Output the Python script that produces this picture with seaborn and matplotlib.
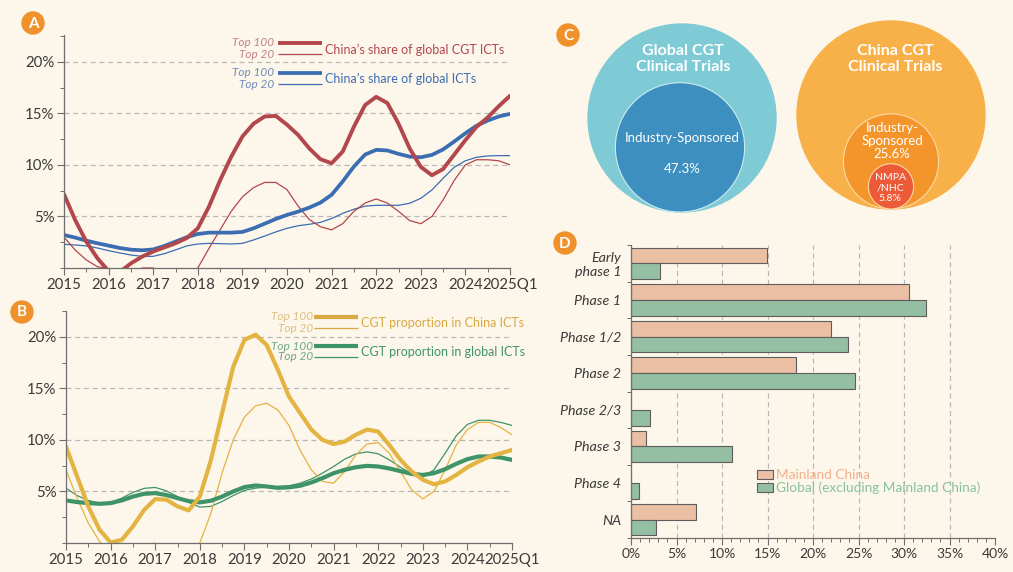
import numpy as np
import pandas as pd
import matplotlib
matplotlib.use('Agg')
import matplotlib.pyplot as plt
from matplotlib.patches import Circle
from matplotlib.ticker import MultipleLocator, FixedLocator, FuncFormatter
import seaborn as sns

# ─── Data ─────────────────────────────────────────────────────────────────────
# quarterly readings, 2015 .. 2025Q1
QUARTERS = [2015.0, 2015.25, 2015.5, 2015.75, 2016.0, 2016.25, 2016.5, 2016.75,
            2017.0, 2017.25, 2017.5, 2017.75, 2018.0, 2018.25, 2018.5, 2018.75,
            2019.0, 2019.25, 2019.5, 2019.75, 2020.0, 2020.25, 2020.5, 2020.75,
            2021.0, 2021.25, 2021.5, 2021.75, 2022.0, 2022.25, 2022.5, 2022.75,
            2023.0, 2023.25, 2023.5, 2023.75, 2024.0, 2024.25, 2024.5, 2024.75,
            2025.0]
YEAR_TICKS = [2015, 2016, 2017, 2018, 2019, 2020, 2021, 2022, 2023, 2024, 2025]
YEAR_LABELS = ['2015', '2016', '2017', '2018', '2019', '2020', '2021', '2022',
               '2023', '2024', '2025Q1']

# Panel A: China's share of global ICTs (%)
cgt_share_top100 = [7.15, 4.66, 2.56, 0.94, -0.3, -0.4, 0.45, 1.1, 1.6, 2.0, 2.4, 2.9,
                    3.85, 5.95, 8.5, 10.8, 12.75, 14.0, 14.7, 14.75, 13.9, 12.9, 11.6,
                    10.55, 10.16, 11.3, 13.7, 15.8, 16.6, 16.0, 14.0, 11.6, 9.8, 9.0,
                    9.6, 11.0, 12.4, 13.7, 14.6, 15.7, 16.7]
cgt_share_top20 = [3.0, 1.75, 0.78, 0.13, -0.1, -0.5, -0.8, 0.0, 0.0, -0.5, -1.0, -0.5,
                   0.0, 1.9, 3.7, 5.5, 6.9, 7.8, 8.3, 8.3, 7.6, 6.0, 4.7, 4.0, 3.7, 4.3,
                   5.5, 6.3, 6.7, 6.3, 5.5, 4.6, 4.3, 5.0, 6.6, 8.5, 10.0, 10.5, 10.5,
                   10.4, 10.0]
ict_share_top100 = [3.2, 2.95, 2.65, 2.4, 2.17, 1.94, 1.78, 1.72, 1.8, 2.14, 2.56, 2.98,
                    3.3, 3.43, 3.43, 3.43, 3.5, 3.85, 4.3, 4.76, 5.15, 5.47, 5.86, 6.34,
                    7.1, 8.4, 9.84, 11.0, 11.46, 11.4, 11.07, 10.8, 10.74, 10.97, 11.5,
                    12.27, 13.07, 13.8, 14.3, 14.7, 14.95]
ict_share_top20 = [2.3, 2.23, 2.14, 1.94, 1.68, 1.46, 1.26, 1.13, 1.13, 1.39, 1.75, 2.14,
                   2.33, 2.39, 2.36, 2.33, 2.39, 2.72, 3.1, 3.5, 3.85, 4.1, 4.24, 4.43,
                   4.8, 5.3, 5.7, 6.0, 6.08, 6.08, 6.08, 6.28, 6.76, 7.57, 8.7, 9.77,
                   10.4, 10.74, 10.87, 10.9, 10.9]

# Panel B: CGT proportion in ICTs (%)
cgt_china_top100 = [9.35, 6.45, 3.55, 1.3, 0.05, 0.3, 1.6, 3.2, 4.26, 4.2, 3.55, 3.16,
                    4.5, 8.06, 12.6, 17.1, 19.7, 20.2, 19.2, 16.8, 14.2, 12.6, 11.0,
                    10.0, 9.6, 9.84, 10.5, 11.0, 10.8, 9.5, 8.06, 6.94, 6.13, 5.7, 5.97,
                    6.6, 7.35, 7.9, 8.39, 8.7, 9.03]
cgt_china_top20 = [7.1, 4.35, 1.94, 0.16, -1.0, -1.5, -1.0, -0.2, 0.0, -0.8, -1.5, -1.0,
                   0.0, 2.9, 6.8, 10.0, 12.2, 13.3, 13.55, 12.9, 11.4, 9.0, 7.1, 5.97,
                   5.8, 6.94, 8.55, 9.6, 9.74, 8.7, 6.94, 5.16, 4.29, 5.0, 7.1, 9.5,
                   11.0, 11.7, 11.7, 11.2, 10.5]
cgt_global_top100 = [4.13, 3.97, 3.87, 3.8, 3.87, 4.13, 4.5, 4.77, 4.84, 4.65, 4.35,
                     4.06, 3.94, 4.1, 4.5, 5.0, 5.42, 5.58, 5.48, 5.35, 5.4, 5.55, 5.87,
                     6.29, 6.77, 7.1, 7.35, 7.48, 7.42, 7.23, 6.97, 6.7, 6.6, 6.77, 7.16,
                     7.68, 8.13, 8.39, 8.39, 8.29, 8.06]
cgt_global_top20 = [5.32, 4.6, 4.13, 3.87, 3.94, 4.35, 4.9, 5.3, 5.39, 5.06, 4.5, 3.94,
                    3.48, 3.55, 4.03, 4.6, 5.1, 5.32, 5.42, 5.48, 5.55, 5.8, 6.2, 6.77,
                    7.42, 8.13, 8.65, 8.84, 8.65, 8.06, 7.35, 6.7, 6.39, 7.1, 8.7, 10.4,
                    11.5, 11.9, 11.9, 11.7, 11.4]

# Panel C: sponsor shares (%)
global_industry = 47.3
china_industry = 25.6
china_nmpa = 5.8

# Panel D: phase distribution (%)
phases = ['Early\nphase 1', 'Phase 1', 'Phase 1/2', 'Phase 2', 'Phase 2/3',
          'Phase 3', 'Phase 4', 'NA']
mainland_china = [14.9, 30.5, 22.0, 18.1, 0.0, 1.7, 0.0, 7.1]
global_ex_china = [3.2, 32.4, 23.9, 24.6, 2.1, 11.1, 0.9, 2.7]
regions = ['Mainland China', 'Global (excluding Mainland China)']

# ─── Style ────────────────────────────────────────────────────────────────────
BG = '#FDF6EA'
INK = '#3a3a3a'
AXC = '#6e6e6e'
ORANGE = '#F0922B'
RED, BLUE = '#B2474C', '#3B6DB3'
YELLOW, GREEN = '#E4B443', '#3E9468'

sns.set_theme(style='ticks', rc={'figure.facecolor': BG, 'axes.facecolor': BG,
                                 'savefig.facecolor': BG})
plt.rcParams['font.family'] = ['Lato', 'DejaVu Sans']

W, H = 1013, 572
fig = plt.figure(figsize=(W / 100, H / 100), dpi=100)


def px_axes(x0, y0, x1, y1):
    return fig.add_axes([x0 / W, 1 - y1 / H, (x1 - x0) / W, (y1 - y0) / H])


def style_axes(ax, size=10):
    sns.despine(ax=ax)
    for s in ('left', 'bottom'):
        ax.spines[s].set_color(AXC)
        ax.spines[s].set_linewidth(0.9)
    ax.tick_params(which='major', length=5, width=0.8, color=AXC,
                   labelsize=size, labelcolor=INK, pad=2)
    ax.tick_params(which='minor', length=3, width=0.7, color=AXC)


def line_panel(ax, series, ymax):
    for vals, color, lw in series:
        sns.lineplot(x=QUARTERS, y=vals, color=color, linewidth=lw, ax=ax,
                     solid_joinstyle='round', solid_capstyle='round')
    ax.set_xlim(2015, 2025)
    ax.set_ylim(0, ymax)
    ax.xaxis.set_major_locator(FixedLocator(YEAR_TICKS))
    ax.set_xticklabels(YEAR_LABELS)
    ax.xaxis.set_minor_locator(MultipleLocator(0.5))
    ax.yaxis.set_major_locator(FixedLocator([5, 10, 15, 20]))
    ax.yaxis.set_major_formatter(FuncFormatter(lambda v, p: f'{v:.0f}%'))
    ax.yaxis.set_minor_locator(MultipleLocator(2.5))
    ax.yaxis.grid(True, linestyle=(0, (4, 3)), color='#b8b8b8', linewidth=0.9)
    ax.set_axisbelow(True)
    ax.set_xlabel('')
    ax.set_ylabel('')
    style_axes(ax, size=10.8)


# ─── Panel A ──────────────────────────────────────────────────────────────────
ax_a = px_axes(64, 35, 510, 268)
line_panel(ax_a, [(ict_share_top20, BLUE, 0.9), (cgt_share_top20, RED, 0.9),
                  (ict_share_top100, BLUE, 2.7), (cgt_share_top100, RED, 2.8)], 22.6)

# ─── Panel B ──────────────────────────────────────────────────────────────────
ax_b = px_axes(66, 311, 512, 543)
line_panel(ax_b, [(cgt_global_top20, GREEN, 0.9), (cgt_china_top20, YELLOW, 0.9),
                  (cgt_global_top100, GREEN, 3.0), (cgt_china_top100, YELLOW, 3.0)], 22.5)

# ─── Panel D ──────────────────────────────────────────────────────────────────
ax_d = px_axes(631, 245, 995, 538)
df_d = pd.DataFrame({
    'phase': phases * 2,
    'pct': mainland_china + global_ex_china,
    'region': [regions[0]] * len(phases) + [regions[1]] * len(phases),
})
sns.barplot(data=df_d, y='phase', x='pct', hue='region', order=phases,
            hue_order=regions, palette=['#F7BC97', '#8DC6A0'], orient='h',
            width=0.86, edgecolor='#5d5d5d', linewidth=0.8, ax=ax_d)
ax_d.set_xlim(0, 40)
ax_d.set_ylim(len(phases) - 0.5, -0.5)
ax_d.xaxis.set_major_locator(MultipleLocator(5))
ax_d.xaxis.set_major_formatter(FuncFormatter(lambda v, p: f'{v:.0f}%'))
ax_d.xaxis.set_minor_locator(MultipleLocator(1))
ax_d.yaxis.set_minor_locator(FixedLocator([i - 0.5 for i in range(len(phases) + 1)]))
for gx in range(5, 40, 5):
    ax_d.axvline(gx, color='#b8b8b8', linestyle=(0, (4, 3)), linewidth=0.9, zorder=0)
ax_d.set_axisbelow(True)
ax_d.set_xlabel('')
ax_d.set_ylabel('')
style_axes(ax_d)
ax_d.tick_params(axis='y', which='major', length=0, pad=7)
for lab in ax_d.get_yticklabels():
    lab.set_fontstyle('italic')
    lab.set_fontsize(10.3)
ax_d.tick_params(axis='x', labelsize=10)

handles, labels = ax_d.get_legend_handles_labels()
leg = ax_d.legend(handles, labels, loc='upper left', bbox_to_anchor=(0.347, 0.235),
                  frameon=False, fontsize=9.8, labelspacing=0.05, handlelength=1.15,
                  handleheight=0.65, handletextpad=0.2, borderpad=0, borderaxespad=0)
for txt, col in zip(leg.get_texts(), ['#F2B08A', '#86C39A']):
    txt.set_color(col)

# ─── Overlay: badges, panel C, line legends ──────────────────────────────────
ov = fig.add_axes([0, 0, 1, 1])
ov.set_xlim(0, W)
ov.set_ylim(H, 0)
ov.axis('off')

for letter, (bx, by) in zip('ABCD', [(33, 23), (22, 312), (568, 35), (565, 243)]):
    ov.add_patch(Circle((bx, by), 11, color=ORANGE, zorder=5))
    ov.text(bx, by + 0.5, letter, ha='center', va='center', color='white',
            fontsize=11, fontweight='bold', zorder=6)

# Panel C nested circles, inner areas proportional to shares
R = 94
gcx, gcy = 682, 118
ccx, ccy = 891, 115
r_gi = R * np.sqrt(global_industry / 100)
r_ci = R * np.sqrt(china_industry / 100)
r_cn = R * np.sqrt(china_nmpa / 100)
ov.add_patch(Circle((gcx, gcy), R, color='#7ECBD6', zorder=2))
ov.add_patch(Circle((gcx - 2, gcy + R - r_gi), r_gi, facecolor='#3C8FBE',
                    edgecolor='#CDEBF0', linewidth=0.8, zorder=3))
ov.add_patch(Circle((ccx, ccy), R, color='#F8B149', zorder=2))
ov.add_patch(Circle((ccx, ccy + R - r_ci), r_ci, facecolor='#F3952A',
                    edgecolor='#FBD9A8', linewidth=0.8, zorder=3))
ov.add_patch(Circle((ccx, ccy + R - r_cn), r_cn, facecolor='#EC5A38',
                    edgecolor='#FBD9A8', linewidth=0.8, zorder=4))

ov.text(gcx + 1, 59, 'Global CGT\nClinical Trials', ha='center', va='center',
        color='white', fontsize=11.5, fontweight='bold', linespacing=1.1, zorder=6)
ov.text(gcx, 138, 'Industry-Sponsored', ha='center', va='center', color='white',
        fontsize=9.5, zorder=6)
ov.text(gcx, 169, f'{global_industry}%', ha='center', va='center', color='white',
        fontsize=9.5, zorder=6)
ov.text(ccx + 4, 59, 'China CGT\nClinical Trials', ha='center', va='center',
        color='white', fontsize=11.5, fontweight='bold', linespacing=1.1, zorder=6)
ov.text(ccx + 1, 141, f'Industry-\nSponsored\n{china_industry}%', ha='center',
        va='center', color='white', fontsize=9.5, linespacing=1.15, zorder=6)
ov.text(ccx - 1, 188, f'NMPA\n/NHC\n{china_nmpa}%', ha='center', va='center',
        color='white', fontsize=7.5, linespacing=1.15, zorder=6)


def line_legend(x_txt, x0, x1, y100, y20, ylab, color, light, label, lw_thick):
    ov.text(x_txt, y100, 'Top 100', ha='right', va='center', color=light,
            fontsize=8.5, fontstyle='italic')
    ov.text(x_txt, y20, 'Top 20', ha='right', va='center', color=light,
            fontsize=8.5, fontstyle='italic')
    ov.plot([x0, x1], [y100, y100], color=color, linewidth=lw_thick,
            solid_capstyle='butt')
    ov.plot([x0, x1], [y20, y20], color=color, linewidth=0.9, solid_capstyle='butt')
    ov.text(x1 + 3, ylab, label, ha='left', va='center', color=color, fontsize=9)


line_legend(274, 278, 322, 43, 54, 50, RED, '#C38386',
            'China’s share of global CGT ICTs', 2.8)
line_legend(274, 278, 322, 73, 84, 79, BLUE, '#6F8DBA',
            'China’s share of global ICTs', 2.7)
line_legend(313, 314, 358, 317, 328, 323, '#D9A943', '#DDBF80',
            'CGT proportion in China ICTs', 3.0)
line_legend(313, 314, 358, 346, 357, 352, GREEN, '#6FA88A',
            'CGT proportion in global ICTs', 3.0)

fig.savefig('out.png', dpi=100, facecolor=BG)
